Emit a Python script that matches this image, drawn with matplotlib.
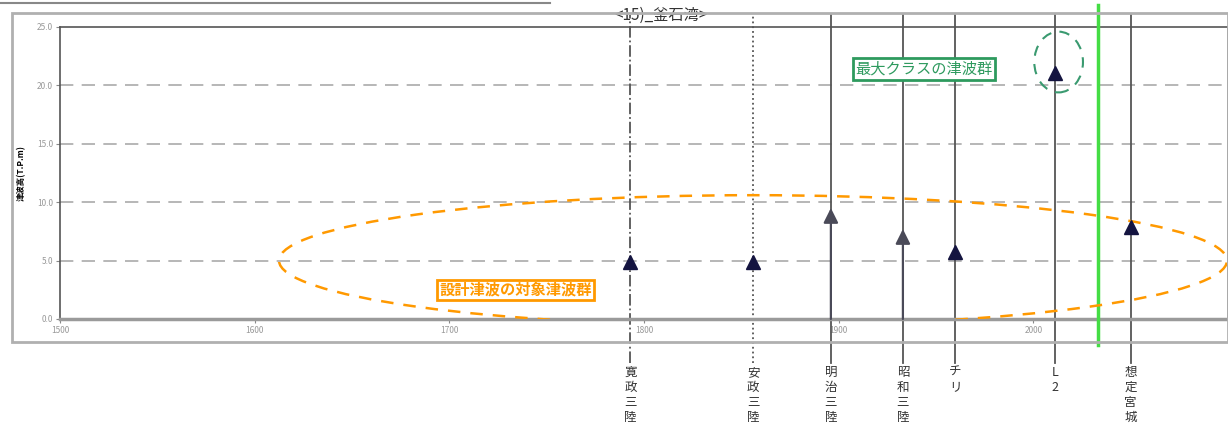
"""
Design tsunami / L2 tsunami chart for Kamaishi bay
"""
import matplotlib
matplotlib.use('Agg')
import matplotlib.pyplot as plt
from matplotlib.patches import Ellipse, Rectangle
from matplotlib.lines import Line2D

plt.rcParams['font.family'] = ['Noto Sans CJK JP', 'DejaVu Sans']

# data
event_names = ['寛政三陸', '安政三陸', '明治三陸', '昭和三陸', 'チリ', 'L2', '想定宮城']
event_years = [1793, 1856, 1896, 1933, 1960, 2011, 2050]
event_heights = [4.9, 4.9, 9.5, 7.7, 5.7, 21.1, 7.9]
event_arrow = [False, False, True, True, False, False, False]
event_style = ['-.', ':', '-', '-', '-', '-', '-']
x_ticks = [1500, 1600, 1700, 1800, 1900, 2000]
y_ticks = [0, 5, 10, 15, 20, 25]
y_tick_labels = ['0.0', '5.0', '10.0', '15.0', '20.0', '25.0']
green_year = 2033

fig = plt.figure(figsize=(12.28, 4.33), dpi=100)
fig.patches.append(Rectangle((12 / 1228, 1 - 342 / 433), 1216 / 1228, 329 / 433,
                             transform=fig.transFigure, fill=False,
                             edgecolor='#b0b0b0', linewidth=2))
fig.add_artist(Line2D([0, 550 / 1228], [1 - 3 / 433, 1 - 3 / 433],
                      transform=fig.transFigure, color='#888888', linewidth=1.5))

ax = fig.add_axes([60 / 1228, (433 - 319) / 433, 1168 / 1228, 292 / 433])
ax.set_xlim(1500, 2100)
ax.set_ylim(0, 25)

for s in ['left', 'right', 'top']:
    ax.spines[s].set_color('#555555')
    ax.spines[s].set_linewidth(1.2)
ax.spines['bottom'].set_color('#9a9a9a')
ax.spines['bottom'].set_linewidth(2.5)

ax.set_xticks(x_ticks)
ax.set_xticklabels([str(v) for v in x_ticks], fontsize=6, color='#999999')
ax.set_yticks(y_ticks)
ax.set_yticklabels(y_tick_labels, fontsize=6, color='#999999')
ax.tick_params(length=3, color='#888888', pad=2)

for v in y_ticks[1:-1]:
    ax.axhline(v, color='#aaaaaa', linestyle=(0, (8, 5)), linewidth=1.2, zorder=1)

ax.set_ylabel('津波高(T.P.m)', fontsize=6, fontweight='bold', labelpad=8)
ax.text(0.515, 1.01, '<15)_釜石湾>', transform=ax.transAxes, fontsize=11,
        ha='center', va='bottom', color='#333333')

# event lines, markers and vertical labels
for name, yr, h, arr, ls in zip(event_names, event_years, event_heights,
                                event_arrow, event_style):
    ax.axvline(yr, ymin=-0.15, ymax=1.04, color='#555555', linestyle=ls,
               linewidth=1.3, clip_on=False, zorder=2)
    if arr:
        ax.annotate('', xy=(yr, h), xytext=(yr, 0),
                    arrowprops=dict(arrowstyle='-|>', color='#4a4a58', lw=1.6,
                                    mutation_scale=22, shrinkA=0, shrinkB=0),
                    zorder=4)
    else:
        ax.plot(yr, h, marker='^', color='#141440', markersize=10, zorder=5)
    ax.text(yr, -0.16, '\n'.join(name), transform=ax.get_xaxis_transform(),
            ha='center', va='top', fontsize=9, linespacing=1.2, color='#333333')

ax.axvline(green_year, ymin=-0.09, ymax=1.075, color='#44dd44', linewidth=2.5,
           clip_on=False, zorder=3)

# groups
ax.add_patch(Ellipse((1856, 5.0), 487, 11.2, fill=False, edgecolor='#ff9900',
                     linestyle=(0, (5, 4)), linewidth=1.8, zorder=3))
ax.add_patch(Ellipse((2013, 22.0), 25, 5.2, fill=False, edgecolor='#3a9a70',
                     linestyle=(0, (5, 4)), linewidth=1.5, zorder=3))

ax.text(1734, 2.5, '設計津波の対象津波群', fontsize=11, color='#ff9900',
        fontweight='bold', ha='center', va='center', zorder=6,
        bbox=dict(boxstyle='square,pad=0.15', fc='white', ec='#ff9900', lw=2))
ax.text(1944, 21.4, '最大クラスの津波群', fontsize=11, color='#2e9a5e',
        ha='center', va='center', zorder=6,
        bbox=dict(boxstyle='square,pad=0.15', fc='white', ec='#2e9a5e', lw=2))

plt.savefig('out.png', dpi=100)
